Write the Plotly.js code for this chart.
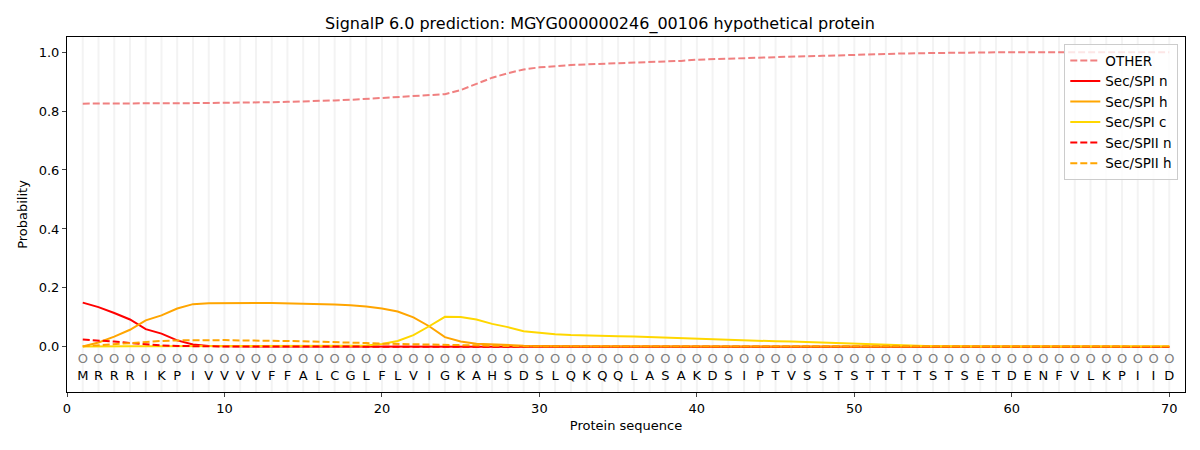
<!DOCTYPE html>
<html>
<head>
<meta charset="utf-8">
<script src="https://cdn.plot.ly/plotly-3.0.1.min.js"></script>
<style>
  html, body { margin: 0; padding: 0; background: white; }
  #signalp_chart { width: 1200px; height: 450px; }
</style>
</head>
<body>
<div id="signalp_chart"></div>
<script>
// protein sequence, one letter per position 1..70
var sequence = "MRRRIKPIVVVVFFALCGLFLVIGKAHSDSLQKQQLASAKDSIPTVSSTSTTTTSTSETDENFVLKPIID".split("")

var other = [0.825, 0.825, 0.825, 0.825, 0.825, 0.826, 0.826, 0.827, 0.827, 0.828,
             0.828, 0.829, 0.830, 0.831, 0.832, 0.834, 0.836, 0.838, 0.841, 0.845,
             0.847, 0.849, 0.852, 0.857, 0.871, 0.893, 0.913, 0.928, 0.941, 0.948,
             0.953, 0.956, 0.958, 0.960, 0.962, 0.964, 0.965, 0.967, 0.970, 0.974,
             0.976, 0.978, 0.979, 0.981, 0.983, 0.984, 0.986, 0.987, 0.989, 0.990,
             0.992, 0.994, 0.995, 0.996, 0.997, 0.998, 0.998, 0.999, 0.999, 0.999,
             0.999, 0.999, 0.999, 0.999, 0.999, 0.999, 0.999, 0.999, 0.999, 0.999]

var spi_n = [0.150, 0.135, 0.115, 0.093, 0.060, 0.045, 0.022, 0.008, 0.003, 0.002,
             0.002, 0.001, 0.001, 0.001, 0.001, 0.001, 0.001, 0.001, 0.001, 0.001,
             0.001, 0.001, 0.001, 0.001, 0.001, 0.001, 0.001, 0.001, 0.001, 0.001,
             0.000, 0.000, 0.000, 0.000, 0.000, 0.000, 0.000, 0.000, 0.000, 0.000,
             0.000, 0.000, 0.000, 0.000, 0.000, 0.000, 0.000, 0.000, 0.000, 0.000,
             0.000, 0.000, 0.000, 0.000, 0.000, 0.000, 0.000, 0.000, 0.000, 0.000,
             0.000, 0.000, 0.000, 0.000, 0.000, 0.000, 0.000, 0.000, 0.000, 0.000]

var spi_h = [0.001, 0.015, 0.035, 0.058, 0.090, 0.107, 0.130, 0.145, 0.148, 0.149,
             0.149, 0.149, 0.149, 0.148, 0.147, 0.146, 0.144, 0.141, 0.137, 0.130,
             0.120, 0.100, 0.070, 0.033, 0.018, 0.011, 0.008, 0.005, 0.004, 0.003,
             0.002, 0.002, 0.002, 0.002, 0.002, 0.002, 0.002, 0.001, 0.001, 0.001,
             0.001, 0.001, 0.001, 0.001, 0.001, 0.001, 0.001, 0.001, 0.001, 0.001,
             0.001, 0.001, 0.001, 0.001, 0.001, 0.001, 0.001, 0.001, 0.001, 0.001,
             0.001, 0.001, 0.001, 0.001, 0.001, 0.001, 0.001, 0.001, 0.001, 0.001]

var spi_c = [0.001, 0.002, 0.002, 0.002, 0.002, 0.002, 0.002, 0.002, 0.002, 0.002,
             0.002, 0.002, 0.002, 0.002, 0.002, 0.002, 0.003, 0.004, 0.005, 0.010,
             0.020, 0.040, 0.070, 0.102, 0.101, 0.093, 0.078, 0.067, 0.053, 0.047,
             0.043, 0.040, 0.038, 0.037, 0.036, 0.035, 0.033, 0.031, 0.029, 0.027,
             0.025, 0.023, 0.022, 0.021, 0.019, 0.018, 0.016, 0.014, 0.012, 0.010,
             0.009, 0.007, 0.005, 0.003, 0.002, 0.002, 0.001, 0.001, 0.001, 0.001,
             0.001, 0.001, 0.001, 0.001, 0.001, 0.001, 0.001, 0.001, 0.001, 0.001]

var spii_n = [0.025, 0.022, 0.018, 0.013, 0.008, 0.005, 0.003, 0.002, 0.001, 0.001,
              0.001, 0.001, 0.001, 0.001, 0.001, 0.001, 0.001, 0.001, 0.001, 0.001,
              0.001, 0.001, 0.001, 0.001, 0.001, 0.001, 0.001, 0.001, 0.001, 0.001,
              0.000, 0.000, 0.000, 0.000, 0.000, 0.000, 0.000, 0.000, 0.000, 0.000,
              0.000, 0.000, 0.000, 0.000, 0.000, 0.000, 0.000, 0.000, 0.000, 0.000,
              0.000, 0.000, 0.000, 0.000, 0.000, 0.000, 0.000, 0.000, 0.000, 0.000,
              0.000, 0.000, 0.000, 0.000, 0.000, 0.000, 0.000, 0.000, 0.000, 0.000]

var spii_h = [0.002, 0.006, 0.010, 0.014, 0.017, 0.020, 0.022, 0.023, 0.023, 0.023,
              0.022, 0.022, 0.021, 0.020, 0.019, 0.018, 0.016, 0.015, 0.013, 0.011,
              0.010, 0.009, 0.008, 0.006, 0.004, 0.003, 0.002, 0.002, 0.001, 0.001,
              0.001, 0.001, 0.001, 0.001, 0.001, 0.001, 0.001, 0.001, 0.001, 0.001,
              0.001, 0.001, 0.001, 0.001, 0.001, 0.001, 0.001, 0.001, 0.001, 0.001,
              0.001, 0.001, 0.001, 0.001, 0.001, 0.001, 0.001, 0.001, 0.001, 0.001,
              0.001, 0.001, 0.001, 0.001, 0.001, 0.001, 0.001, 0.001, 0.001, 0.001]

var positions = sequence.map(function (s, i) { return i + 1 })

function line_trace(y, name, color, dash) {
    return {
        x: positions,
        y: y,
        name: name,
        type: 'scatter',
        mode: 'lines',
        line: {color: color, width: 2, dash: dash},
        hoverinfo: 'skip'
    }
}

var data = [
    line_trace(other, 'OTHER', '#f08080', '7px,3px'),
    line_trace(spi_n, 'Sec/SPI n', '#ff0000', 'solid'),
    line_trace(spi_h, 'Sec/SPI h', '#ffa500', 'solid'),
    line_trace(spi_c, 'Sec/SPI c', '#ffd700', 'solid'),
    line_trace(spii_n, 'Sec/SPII n', '#ff0000', '7px,3px'),
    line_trace(spii_h, 'Sec/SPII h', '#ffa500', '7px,3px'),
    {
        // the "O" row under the curves
        x: positions,
        y: positions.map(function () { return -0.045 }),
        text: positions.map(function () { return 'O' }),
        type: 'scatter',
        mode: 'text',
        textfont: {family: 'DejaVu Sans', size: 13, color: 'gray'},
        showlegend: false,
        hoverinfo: 'skip'
    },
    {
        x: positions,
        y: positions.map(function () { return -0.1 }),
        text: sequence,
        type: 'scatter',
        mode: 'text',
        textfont: {family: 'DejaVu Sans', size: 13, color: 'black'},
        showlegend: false,
        hoverinfo: 'skip'
    }
]

// light vertical guide at every residue
var shapes = positions.map(function (p) {
    return {
        type: 'line', xref: 'x', yref: 'paper',
        x0: p, x1: p, y0: 0, y1: 1,
        line: {color: '#f3f3f3', width: 2},
        layer: 'below'
    }
})

var layout = {
    width: 1200,
    height: 450,
    margin: {t: 37, l: 67, r: 15, b: 58, pad: 0},
    paper_bgcolor: 'white',
    plot_bgcolor: 'white',
    font: {family: 'DejaVu Sans', size: 13, color: 'black'},
    title: {
        text: 'SignalP 6.0 prediction: MGYG000000246_00106 hypothetical protein',
        font: {size: 16},
        x: 0.5, xanchor: 'center', y: 0.948, yanchor: 'middle'
    },
    shapes: shapes,
    showlegend: true,
    legend: {
        x: 0.994, xanchor: 'right',
        y: 0.98, yanchor: 'top',
        bgcolor: 'rgba(255,255,255,0.8)',
        bordercolor: '#cccccc',
        borderwidth: 1,
        font: {size: 13.5},
        tracegroupgap: 0
    },
    xaxis: {
        range: [0, 71],
        tickvals: [0, 10, 20, 30, 40, 50, 60, 70],
        ticks: 'outside', ticklen: 4,
        showgrid: false, zeroline: false,
        showline: true, mirror: true, linecolor: 'black', linewidth: 1,
        title: {text: 'Protein sequence', font: {size: 13}, standoff: 6}
    },
    yaxis: {
        range: [-0.153, 1.051],
        tickvals: [0, 0.2, 0.4, 0.6, 0.8, 1.0],
        tickformat: '.1f',
        ticks: 'outside', ticklen: 4,
        showgrid: false, zeroline: false,
        showline: true, mirror: true, linecolor: 'black', linewidth: 1,
        title: {text: 'Probability', font: {size: 13}, standoff: 8}
    }
}

Plotly.newPlot('signalp_chart', data, layout, {displayModeBar: false, staticPlot: true})
</script>
</body>
</html>
